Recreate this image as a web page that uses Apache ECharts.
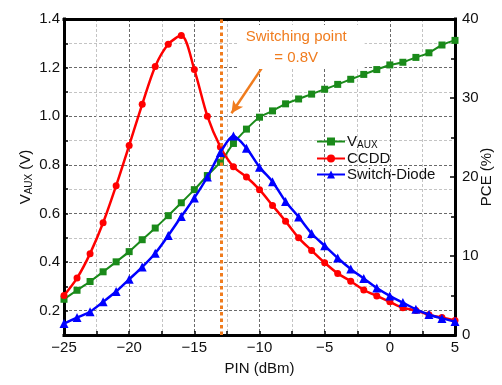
<!DOCTYPE html>
<html>
<head>
<meta charset="utf-8">
<script src="https://cdn.jsdelivr.net/npm/echarts@6/dist/echarts.min.js"></script>
<style>
  html, body { margin: 0; padding: 0; background: #fff; }
  #chart { width: 502px; height: 385px; }
</style>
</head>
<body>
<div id="chart"></div>
<script>
// Input power sweep (dBm)
const pin = [-25, -24, -23, -22, -21, -20, -19, -18, -17, -16, -15, -14, -13, -12, -11, -10,
             -9, -8, -7, -6, -5, -4, -3, -2, -1, 0, 1, 2, 3, 4, 5];

// Auxiliary supply voltage (V), left axis
const vaux = [0.247, 0.284, 0.320, 0.360, 0.401, 0.443, 0.492, 0.540, 0.591, 0.644, 0.698,
              0.756, 0.811, 0.888, 0.947, 0.996, 1.022, 1.051, 1.071, 1.091, 1.111, 1.131,
              1.152, 1.172, 1.192, 1.211, 1.222, 1.242, 1.261, 1.293, 1.312];

// Power conversion efficiency (%), right axis
const pceCCDD = [5.0, 7.2, 10.3, 14.2, 18.9, 24.0, 29.2, 34.0, 36.8, 37.9, 33.6, 27.7, 23.8,
                 21.3, 20.0, 18.4, 16.4, 14.4, 12.3, 10.7, 9.15, 7.8, 6.8, 5.7, 4.95, 4.2,
                 3.45, 3.1, 2.55, 2.2, 1.85];
const pceSwitch = [1.45, 2.2, 2.95, 4.2, 5.5, 7.05, 8.6, 10.35, 12.6, 15.0, 17.35, 20.0, 23.1,
                   25.2, 23.65, 21.25, 19.4, 16.9, 14.95, 12.85, 11.3, 9.75, 8.35, 7.15, 5.95,
                   4.95, 4.1, 3.25, 2.6, 2.1, 1.7];

// Switching point annotation
const switchPin = -12.9;
const noteLines = ['Switching point', '= 0.8V'];
const notePos = [-6.8, 1.285];
const arrowFrom = [-9.8, 1.2];
const arrowTo = [-12.15, 1.012];

const FONT = '"Liberation Sans", Arial, Helvetica, sans-serif';
const ORANGE = '#F07C1E';
const GREEN = '#1a8a1a';
const INK = '#111';

const pairs = (ys) => pin.map((x, i) => [x, ys[i]]);
const isMult = (v, step) => Math.abs(Math.round(v / step) * step - v) < 1e-6;

const subRich = (size) => ({
  m: { fontFamily: FONT, fontSize: size, color: INK, verticalAlign: 'bottom' },
  s: { fontFamily: FONT, fontSize: Math.round(size * 0.68), color: INK, verticalAlign: 'bottom', padding: [0, 0, -1, 0] }
});

// thick black frame: each side of the plot is an axis line
const frameLine = () => ({ show: true, onZero: false, lineStyle: { color: '#000', width: 3, cap: 'square' } });

const chart = echarts.init(document.getElementById('chart'), null, { renderer: 'canvas' });

const option = {
  backgroundColor: '#fff',
  animation: false,
  textStyle: { fontFamily: FONT },
  grid: { left: 64, right: 45, top: 19, bottom: 50 },
  legend: {
    orient: 'vertical',
    left: 311,
    top: 129,
    itemWidth: 28,
    itemHeight: 10,
    itemGap: 1,
    data: ['VAUX', 'CCDD', 'Switch-Diode'],
    formatter: (n) => n === 'VAUX' ? '{m|V}{s|AUX}' : '{m|' + n + '}',
    textStyle: {
      fontFamily: FONT, fontSize: 15, color: INK, padding: [0, 0, 0, -3],
      rich: subRich(15)
    }
  },
  xAxis: [{
    type: 'value', min: -25, max: 5, interval: 2.5, position: 'bottom',
    name: 'PIN (dBm)', nameLocation: 'middle', nameGap: 26, nameMoveOverlap: false,
    nameTextStyle: { fontFamily: FONT, fontSize: 15, color: INK },
    axisLine: frameLine(),
    axisTick: { inside: true, length: 4, lineStyle: { color: '#000', width: 1.5 } },
    axisLabel: {
      margin: 5, fontFamily: FONT, fontSize: 15, color: INK,
      formatter: (v) => isMult(v, 5) ? String(v).replace('-', '\u2212') : ''
    },
    splitLine: { show: true, lineStyle: { color: ['#6a6a6a', '#c4c4c4'], type: [3, 2], width: 1 } }
  }, {
    type: 'value', min: -25, max: 5, position: 'top',
    axisLine: frameLine(),
    axisTick: { show: false }, axisLabel: { show: false }, splitLine: { show: false }
  }],
  yAxis: [{
    type: 'value', min: 0.1, max: 1.4, interval: 0.1, position: 'left',
    name: '{m|V}{s|AUX}{m| (V)}', nameLocation: 'middle', nameGap: 31, nameRotate: 90,
    nameMoveOverlap: false,
    nameTextStyle: { fontFamily: FONT, fontSize: 15, color: INK, rich: subRich(15) },
    axisLine: frameLine(),
    axisTick: { inside: true, length: 4, lineStyle: { color: '#000', width: 1.5 } },
    axisLabel: {
      margin: 4, fontFamily: FONT, fontSize: 15, color: INK,
      formatter: (v) => isMult(v, 0.2) && v > 0.15 ? v.toFixed(1) : ''
    },
    splitLine: { show: true, lineStyle: { color: ['#c4c4c4', '#6a6a6a'], type: [3, 2], width: 1 } }
  }, {
    type: 'value', min: 0, max: 40, interval: 10, position: 'right',
    name: 'PCE (%)', nameLocation: 'middle', nameGap: 24, nameRotate: 90,
    nameMoveOverlap: false,
    nameTextStyle: { fontFamily: FONT, fontSize: 15, color: INK },
    axisLine: frameLine(),
    axisTick: { inside: true, length: 5, lineStyle: { color: '#000', width: 1.5 } },
    minorTick: { show: true, splitNumber: 2, length: 4, lineStyle: { color: '#000', width: 1.5 } },
    axisLabel: { margin: 7, fontFamily: FONT, fontSize: 15, color: INK },
    splitLine: { show: false }
  }],
  series: [{
    name: 'VAUX', type: 'line', yAxisIndex: 0, data: pairs(vaux),
    smooth: 0.3, symbol: 'rect', symbolSize: 7,
    lineStyle: { color: GREEN, width: 2 }, itemStyle: { color: GREEN },
    z: 3,
    markLine: {
      silent: true, animation: false,
      data: [
        [{ coord: [switchPin, 0.1], symbol: 'none' }, { coord: [switchPin, 1.4], symbol: 'none' }],
        [
          { coord: arrowFrom, symbol: 'none', lineStyle: { type: 'solid', width: 2.5, color: ORANGE } },
          { coord: arrowTo, symbol: 'arrow', symbolSize: [9, 12] }
        ]
      ],
      label: { show: false },
      lineStyle: { color: ORANGE, width: 3, type: [3.5, 3] },
      emphasis: { disabled: true }
    },
    markPoint: {
      silent: true, animation: false,
      symbol: 'rect', symbolSize: 1,
      itemStyle: { color: 'rgba(0,0,0,0)' },
      data: [{ coord: notePos }],
      label: {
        show: true, position: 'inside', align: 'center',
        formatter: noteLines.join('\n'),
        fontFamily: FONT, fontSize: 15, lineHeight: 21, color: ORANGE,
        backgroundColor: '#fff', padding: [1, 18, 1, 8]
      }
    }
  }, {
    name: 'CCDD', type: 'line', yAxisIndex: 1, data: pairs(pceCCDD),
    smooth: 0.3, symbol: 'circle', symbolSize: 7,
    lineStyle: { color: '#ff0000', width: 2.5 }, itemStyle: { color: '#ff0000' },
    z: 4
  }, {
    name: 'Switch-Diode', type: 'line', yAxisIndex: 1, data: pairs(pceSwitch),
    smooth: 0.3, symbol: 'triangle', symbolSize: 9,
    lineStyle: { color: '#0000ff', width: 2.5 }, itemStyle: { color: '#0000ff' },
    z: 5
  }]
};

chart.setOption(option);
</script>
</body>
</html>
